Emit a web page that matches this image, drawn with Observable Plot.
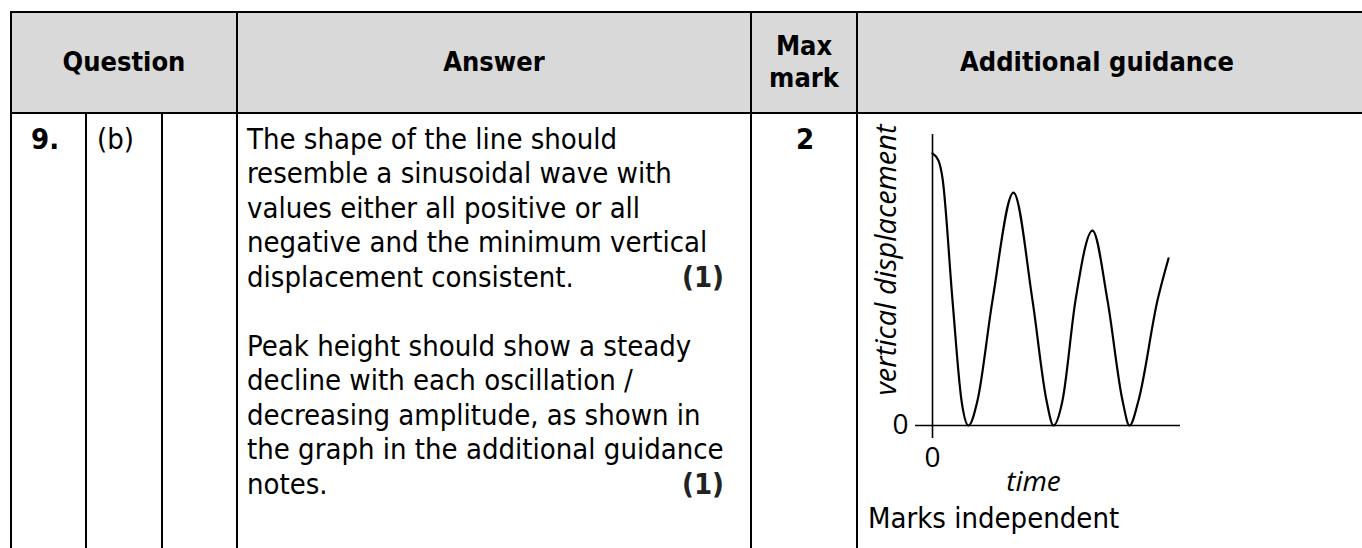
<!DOCTYPE html>
<html><head><meta charset="utf-8">
<script src="https://cdn.jsdelivr.net/npm/d3@7"></script>
<script src="https://cdn.jsdelivr.net/npm/@observablehq/plot@0.6"></script>
<style>
html,body{margin:0;padding:0;background:#fff;width:1362px;height:548px;overflow:hidden;}
#page{position:relative;width:1362px;height:548px;font-family:"DejaVu Sans Condensed","DejaVu Sans",sans-serif;font-stretch:condensed;font-size:29px;color:#000;}
.ln{position:absolute;background:#000;}
.hd{position:absolute;background:#d9d9d9;}
.t{position:absolute;white-space:pre;line-height:34.5px;}
.b{font-weight:bold;}
.h{font-weight:bold;font-size:27px;}
#chart{position:absolute;left:857px;top:113px;font-stretch:normal;}
#chart svg, #chart svg text{font-stretch:normal;}
</style></head><body><div id="page"></div>
<script>
// ---- data ----
const headerLabels = ["Question", "Answer", "Max", "mark", "Additional guidance"];
const questionNumber = "9.";
const questionPart = "(b)";
const maxMark = "2";
const answerPara1 = [
  "The shape of the line should",
  "resemble a sinusoidal wave with",
  "values either all positive or all",
  "negative and the minimum vertical",
  "displacement consistent."
];
const answerPara2 = [
  "Peak height should show a steady",
  "decline with each oscillation /",
  "decreasing amplitude, as shown in",
  "the graph in the additional guidance",
  "notes."
];
const markAward = "(1)";
const guidanceNote = "Marks independent";
const xTitle = "time";
const yTitle = "vertical displacement";
const xTicks = [0];
const yTicks = [0];
const time =         [0,    0.6, 1.0, 2.0, 2.9,  3.6, 4.5,  6.0, 8.1, 10.0, 11.4, 12.1, 13.0, 14.3, 16.0, 17.5, 19.0, 19.7, 20.6, 22.5, 23.6];
const displacement = [9.35, 9.1, 8.5, 4.3, 0.86, 0,   0.86, 4.3, 8.0, 4.3,  0.86, 0,    0.86, 4.3,  6.7,  4.3,  0.86, 0,    0.86, 4.3,  5.74];

// ---- layout ----
const page = document.getElementById("page");
function box(cls, x, y, w, h) {
  const d = document.createElement("div");
  d.className = cls;
  Object.assign(d.style, {left: x + "px", top: y + "px", width: w + "px", height: h + "px"});
  page.appendChild(d);
  return d;
}
function txt(s, x, baseline, opts = {}) {
  const d = document.createElement("div");
  d.className = "t" + (opts.bold ? " b" : "") + (opts.head ? " h" : "");
  d.textContent = s;
  const top = baseline - (opts.head ? 26.5 : 27.3);
  d.style.top = top + "px";
  if (opts.center !== undefined) {
    d.style.left = (opts.center - 300) + "px";
    d.style.width = "600px";
    d.style.textAlign = "center";
  } else if (opts.right !== undefined) {
    d.style.left = (opts.right - 300) + "px";
    d.style.width = "300px";
    d.style.textAlign = "right";
  } else {
    d.style.left = x + "px";
  }
  if (opts.color) d.style.color = opts.color;
  page.appendChild(d);
  return d;
}

// header background
box("hd", 12, 13, 1350, 99);
// horizontal lines
box("ln", 10, 11, 1352, 2);
box("ln", 10, 112, 1352, 2);
// vertical lines
box("ln", 10, 11, 2, 537);
box("ln", 85, 112, 2, 436);
box("ln", 161, 112, 2, 436);
box("ln", 236, 11, 2, 537);
box("ln", 750, 11, 2, 537);
box("ln", 856, 11, 2, 537);

// header text
txt(headerLabels[0], 0, 71, {head: true, center: 124});
txt(headerLabels[1], 0, 71, {head: true, center: 494});
txt(headerLabels[2], 0, 55, {head: true, center: 804});
txt(headerLabels[3], 0, 87, {head: true, center: 804});
txt(headerLabels[4], 0, 71, {head: true, center: 1097});

// body
const b0 = 149, lh = 34.5;
txt(questionNumber, 31, b0, {bold: true});
txt(questionPart, 97, b0);
txt(maxMark, 0, b0, {bold: true, center: 805});
answerPara1.forEach((s, i) => txt(s, 247, b0 + i * lh));
txt(markAward, 0, b0 + 4 * lh, {bold: true, right: 724, color: "#222"});
answerPara2.forEach((s, i) => txt(s, 247, b0 + (i + 6) * lh));
txt(markAward, 0, b0 + 10 * lh, {bold: true, right: 724, color: "#222"});
txt(guidanceNote, 868, 528);

// ---- chart ----
const pts = time.map((t, i) => ({t, d: displacement[i]}));
const chart = Plot.plot({
  width: 400, height: 400,
  marginLeft: 75, marginRight: 77, marginTop: 21, marginBottom: 88,
  x: {domain: [0, 24.8]},
  y: {domain: [0, 10]},
  style: {fontFamily: '"Open Sans", sans-serif', fontSize: "28px", background: "transparent", color: "#000", overflow: "visible"},
  marks: [
    Plot.ruleX([0], {y1: 10, y2: -0.45, stroke: "#000", strokeWidth: 1.6}),
    Plot.ruleY([0], {x1: -1.7, x2: 24.8, stroke: "#000", strokeWidth: 1.6}),
    Plot.line(pts, {x: "t", y: "d", curve: "monotone-x", stroke: "#000", strokeWidth: 2.2}),
    Plot.axisX(xTicks, {tickSize: 0, tickPadding: 22, label: null, fontSize: 28}),
    Plot.axisY(yTicks, {tickSize: 0, tickPadding: 24, label: null, fontSize: 28}),
    Plot.text([xTitle], {text: d => d, frameAnchor: "bottom", textAnchor: "middle", lineAnchor: "middle", dx: -23, dy: 57, fontStyle: "italic", fontSize: 28}),
    Plot.text([yTitle], {text: d => d, frameAnchor: "left", textAnchor: "middle", lineAnchor: "middle", rotate: -90, dx: -46, dy: -20, fontStyle: "italic", fontSize: 29})
  ]
});
const holder = document.createElement("div");
holder.id = "chart";
holder.appendChild(chart);
page.appendChild(holder);
</script>
</body></html>
